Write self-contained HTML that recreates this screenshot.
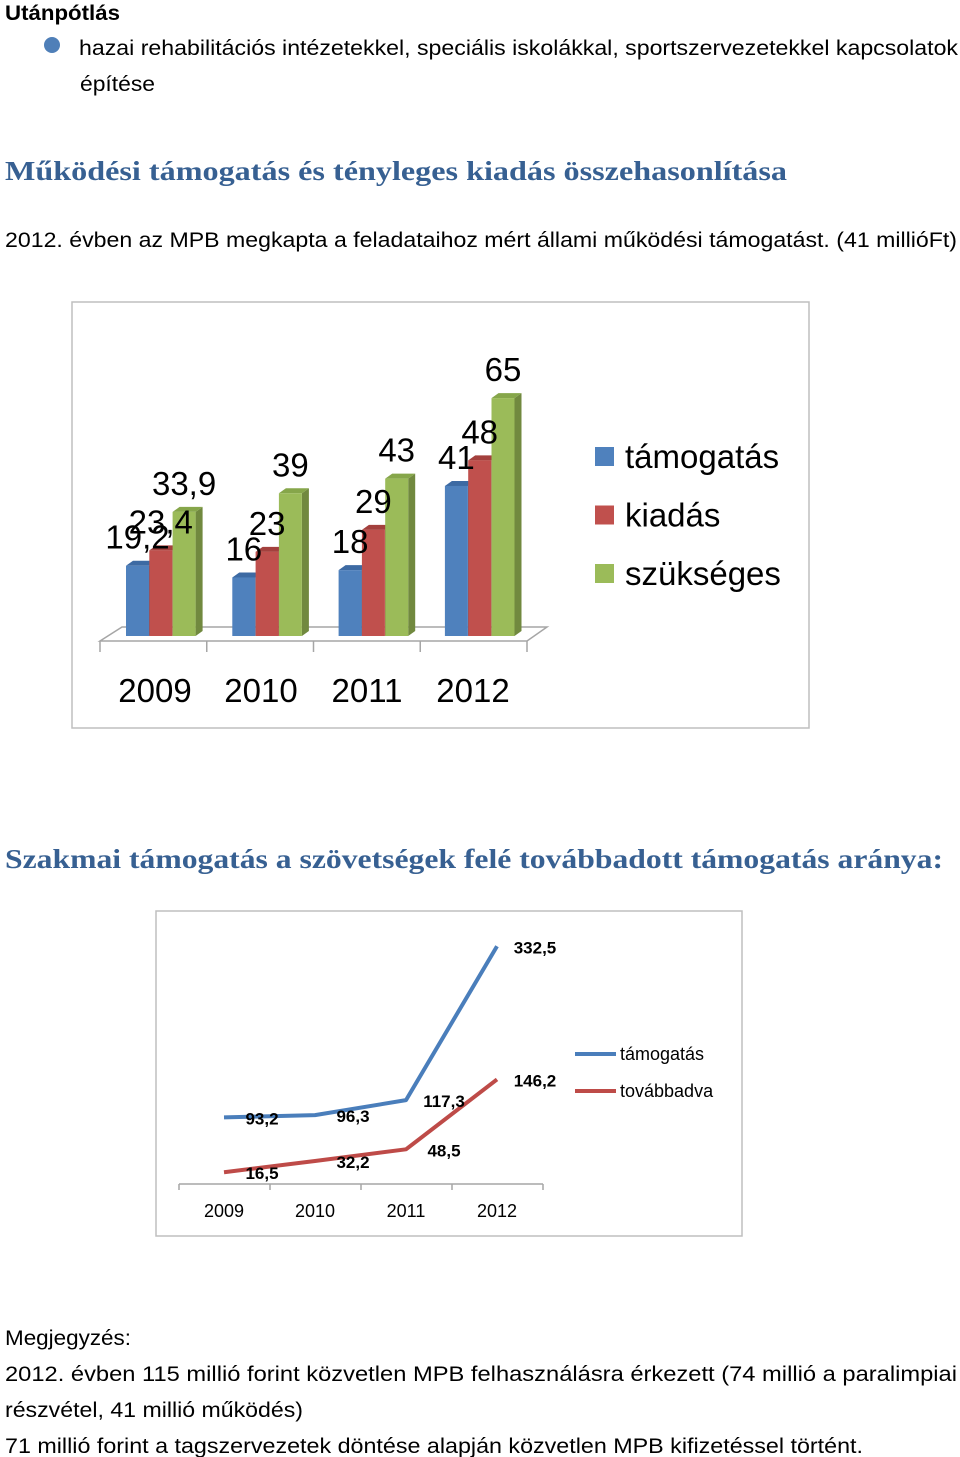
<!DOCTYPE html>
<html><head><meta charset="utf-8">
<style>html,body{margin:0;padding:0;background:#fff}svg{display:block}text{font-family:"Liberation Sans",sans-serif}</style>
</head><body>
<svg id="page" width="960" height="1457" viewBox="0 0 960 1457" xmlns="http://www.w3.org/2000/svg">
<g fill="#000">
<text x="5" y="20" font-size="21" font-weight="bold" textLength="115" lengthAdjust="spacingAndGlyphs">Utánpótlás</text>
<circle cx="52" cy="45" r="8" fill="#4f7fb8"/>
<text x="79" y="55" font-size="21" textLength="879" lengthAdjust="spacingAndGlyphs">hazai rehabilitációs intézetekkel, speciális iskolákkal, sportszervezetekkel kapcsolatok</text>
<text x="80" y="91" font-size="21" textLength="75" lengthAdjust="spacingAndGlyphs">építése</text>
<text x="5" y="180" font-size="27" font-weight="bold" fill="#376092" style="font-family:'Liberation Serif',serif" textLength="782" lengthAdjust="spacingAndGlyphs">Működési támogatás és tényleges kiadás összehasonlítása</text>
<text x="5" y="247" font-size="21" textLength="952" lengthAdjust="spacingAndGlyphs">2012. évben az MPB megkapta a feladataihoz mért állami működési támogatást. (41 millióFt)</text>
<text x="5" y="868" font-size="27" font-weight="bold" fill="#376092" style="font-family:'Liberation Serif',serif" textLength="938" lengthAdjust="spacingAndGlyphs">Szakmai támogatás a szövetségek felé továbbadott támogatás aránya:</text>
<text x="5" y="1345" font-size="21" textLength="126" lengthAdjust="spacingAndGlyphs">Megjegyzés:</text>
<text x="5" y="1381" font-size="21" textLength="952" lengthAdjust="spacingAndGlyphs">2012. évben 115 millió forint közvetlen MPB felhasználásra érkezett (74 millió a paralimpiai</text>
<text x="5" y="1417" font-size="21" textLength="298" lengthAdjust="spacingAndGlyphs">részvétel, 41 millió működés)</text>
<text x="5" y="1453" font-size="21" textLength="858" lengthAdjust="spacingAndGlyphs">71 millió forint a tagszervezetek döntése alapján közvetlen MPB kifizetéssel történt.</text>
</g>
<g id="bar-chart">
<rect x="72" y="302" width="737" height="426" fill="#fff" stroke="#bfbfbf" stroke-width="1.5"/>
<polygon points="100,641 527,641 547,627 122,627" fill="#fff" stroke="#a6a6a6" stroke-width="1.5"/>
</g>
<g id="line-chart">
<rect x="156" y="911" width="586" height="325" fill="#fff" stroke="#bfbfbf" stroke-width="1.5"/>
</g>
</svg>
<script>
var barYears=["2009","2010","2011","2012"];
var barSeries=["támogatás","kiadás","szükséges"];
var tamogatas=[19.2,16,18,41];
var kiadas=[23.4,23,29,48];
var szukseges=[33.9,39,43,65];
var barLabels=[["19,2","16","18","41"],["23,4","23","29","48"],["33,9","39","43","65"]];

var lineYears=["2009","2010","2011","2012"];
var lineSeries=["támogatás","továbbadva"];
var lineTamogatas=[93.2,96.3,117.3,332.5];
var lineTovabbadva=[16.5,32.2,48.5,146.2];
var lineLabels=[["93,2","96,3","117,3","332,5"],["16,5","32,2","48,5","146,2"]];

var NS="http://www.w3.org/2000/svg";
function mk(tag,attrs,parent){var e=document.createElementNS(NS,tag);for(var k in attrs)e.setAttribute(k,attrs[k]);parent.appendChild(e);return e;}

(function(){
var g=document.getElementById('bar-chart');
var base=636, scale=3.66;
function yB(v){return base-v*scale;}
function xB(gi,si){return 126+gi*106.3+si*23.3;}
var fronts=["#4f81bd","#c0504d","#9bbb59"],sides=["#385d8a","#8c3836","#71893f"],tops=["#3d6aa3","#a3403d","#86a64a"];
var data=[tamogatas,kiadas,szukseges];
var W=23,dx=7,dy=5;
for(var gi=0;gi<barYears.length;gi++){
 for(var si=0;si<3;si++){
  var v=data[si][gi],x=xB(gi,si),y=yB(v);
  var s=mk('polygon',{points:(x+W)+','+y+' '+(x+W+dx)+','+(y-dy)+' '+(x+W+dx)+','+(base-dy)+' '+(x+W)+','+base,fill:sides[si]},g);
  
  
  var t=mk('polygon',{points:x+','+y+' '+(x+dx)+','+(y-dy)+' '+(x+W+dx)+','+(y-dy)+' '+(x+W)+','+y,fill:tops[si]},g);
  
  
  var r=mk('rect',{x:x,y:y,width:W,height:base-y,fill:fronts[si]},g);
  
  
 }
}
for(var gi=0;gi<barYears.length;gi++){
 for(var si=0;si<3;si++){
  var v=data[si][gi],x=xB(gi,si);
  var lb=mk('text',{x:x+W/2,y:yB(v)-17,'font-size':33,'text-anchor':'middle',fill:'#000'},g);
  lb.textContent=barLabels[si][gi];
  
  
 }
}
for(var i=0;i<=4;i++){
 var tx=100+i*106.75;
 var tk=mk('line',{x1:tx,y1:641,x2:tx,y2:652,stroke:'#a6a6a6','stroke-width':1.5},g);
 
 
}
for(var gi=0;gi<barYears.length;gi++){
 var yl=mk('text',{x:155+gi*106,y:702,'font-size':33,'text-anchor':'middle',fill:'#000'},g);
 yl.textContent=barYears[gi];
 
 
}
for(var si=0;si<3;si++){
 var sq=mk('rect',{x:595,y:447+si*58.5,width:19,height:19,fill:fronts[si]},g);
 
 
 var lt=mk('text',{x:625,y:468+si*58.5,'font-size':33,fill:'#000'},g);
 lt.textContent=barSeries[si];
 
 
}
})();

(function(){
var g=document.getElementById('line-chart');
var base=1184, scale=0.715;
function yL(v){return base-v*scale;}
function xL(i){return 224+i*91;}
var ax=mk('line',{x1:179,y1:base,x2:543,y2:base,stroke:'#a6a6a6','stroke-width':1.5},g);


for(var i=0;i<=4;i++){
 var tk=mk('line',{x1:179+i*91,y1:base,x2:179+i*91,y2:base+6,stroke:'#a6a6a6','stroke-width':1.5},g);
 
 
}
for(var i=0;i<lineYears.length;i++){
 var yl=mk('text',{x:xL(i),y:1217,'font-size':18,'text-anchor':'middle',fill:'#000'},g);
 yl.textContent=lineYears[i];
 
 
}
var series=[lineTamogatas,lineTovabbadva],cols=["#4a7ebb","#be4b48"];
for(var s=0;s<2;s++){
 var pts=series[s].map(function(v,i){return xL(i)+','+yL(v);}).join(' ');
 var pl=mk('polyline',{points:pts,fill:'none',stroke:cols[s],'stroke-width':4,'stroke-linejoin':'round'},g);
 
 
}
for(var s=0;s<2;s++){
 for(var i=0;i<4;i++){
  var lb=mk('text',{x:xL(i)+38,y:yL(series[s][i])+7,'font-size':17,'font-weight':'bold','text-anchor':'middle',fill:'#000'},g);
  lb.textContent=lineLabels[s][i];
  
  
 }
}
for(var s=0;s<2;s++){
 var ll=mk('line',{x1:575,y1:1054+s*37,x2:616,y2:1054+s*37,stroke:cols[s],'stroke-width':4},g);
 
 
 var lt=mk('text',{x:620,y:1060+s*37,'font-size':18,fill:'#000'},g);
 lt.textContent=lineSeries[s];
 
 
}
})();
</script>
</body></html>
